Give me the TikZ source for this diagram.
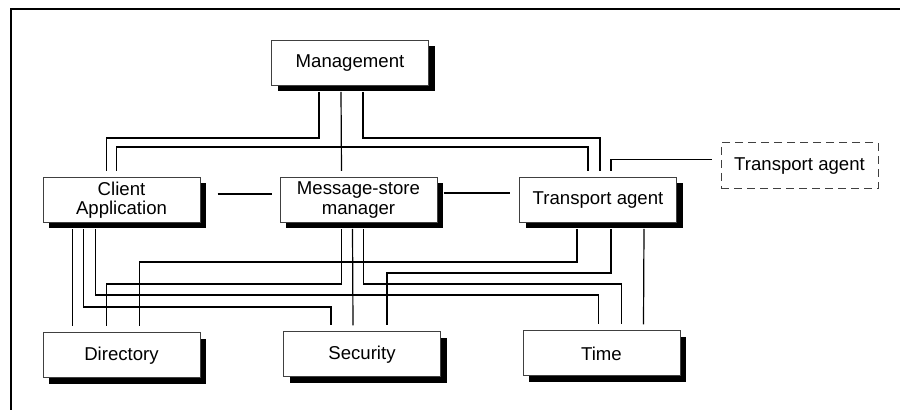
\documentclass[tikz,border=0pt]{standalone}
\usepackage{fontspec}
\setmainfont{Liberation Sans}
\usetikzlibrary{shadows,calc}

\begin{document}
\begin{tikzpicture}[x = 0.5pt, y = -0.5pt, font = \fontsize{9.3}{9.8}\selectfont,
        comp/.style = {draw = black!75, line width = 0.5pt, fill = white,
            minimum width = 78.5pt, minimum height = 22.5pt, inner sep = 0pt, align = center,
            drop shadow = {shadow xshift = 3pt, shadow yshift = -3pt, fill = black, opacity = 1}},
        remote/.style = {draw = black!75, line width = 0.5pt, dash pattern = on 4pt off 2.5pt,
            minimum width = 78.5pt, minimum height = 23pt, inner sep = 0pt},
        link/.style = {line width = 0.6pt}]
        \useasboundingbox (0,0) rectangle (900,410);
        \draw [line width = 1.25pt] (11,416) -- (11,9) -- (906,9);

        \node [comp] (mgmt) at (350,63) {Management};
        \node [comp] (client) at (121.5,200) {Client\\Application};
        \node [comp] (store) at (358.5,200) {Message-store\\manager};
        \node [comp] (transport) at (598,200) {Transport agent};
        \node [remote] (ext) at (799.5,166) {Transport agent};
        \node [comp] (directory) at (121.5,355.5) {Directory};
        \node [comp] (security) at (362,354.5) {Security};
        \node [comp] (time) at (601.5,353.5) {Time};

        \coordinate (m1) at ($(mgmt.south west)+(48,6)$);
        \coordinate (m2) at ($(mgmt.south west)+(70,6)$);
        \coordinate (m3) at ($(mgmt.south west)+(92,6)$);
        \coordinate (ct1) at ($(client.north west)+(64,-6)$);
        \coordinate (ct2) at ($(client.north west)+(74,-6)$);
        \coordinate (st) at ($(store.north west)+(62,-6)$);
        \coordinate (tt1) at ($(transport.north west)+(69,-6)$);
        \coordinate (tt2) at ($(transport.north west)+(81,-6)$);
        \coordinate (tt3) at ($(transport.north west)+(92,-6)$);
        \coordinate (xp) at ($(ext.north west)+(-9,17)$);

        \coordinate (cb1) at ($(client.south west)+(30,6)$);
        \coordinate (cb2) at ($(client.south west)+(41,6)$);
        \coordinate (cb3) at ($(client.south west)+(53,6)$);
        \coordinate (sb1) at ($(store.south west)+(62,6)$);
        \coordinate (sb2) at ($(store.south west)+(73,6)$);
        \coordinate (sb3) at ($(store.south west)+(84,6)$);
        \coordinate (tb1) at ($(transport.south west)+(58,6)$);
        \coordinate (tb2) at ($(transport.south west)+(92,6)$);
        \coordinate (tb3) at ($(transport.south west)+(125,6)$);

        \coordinate (d1) at ($(directory.north west)+(30,-6)$);
        \coordinate (d2) at ($(directory.north west)+(64,-6)$);
        \coordinate (d3) at ($(directory.north west)+(97,-6)$);
        \coordinate (s1) at ($(security.north west)+(48,-6)$);
        \coordinate (s2) at ($(security.north west)+(70,-6)$);
        \coordinate (s3) at ($(security.north west)+(104,-6)$);
        \coordinate (t1) at ($(time.north west)+(76,-6)$);
        \coordinate (t2) at ($(time.north west)+(99,-6)$);
        \coordinate (t3) at ($(time.north west)+(121,-6)$);

        \draw [link] (m1) -- ++(0,46) -| (ct1);
        \draw [link] (m2) -- (st);
        \draw [link] (m3) -- ++(0,46) -| (tt2);
        \draw [link] (ct2) -- ++(0,-24) -| (tt1);
        \draw [link] (tt3) |- (xp);

        \draw [link] ($(client.east)+(17,-6)$) -- ($(store.west)+(-8,-6)$);
        \draw [link] ($(store.east)+(6,-7)$) -- ($(transport.west)+(-9,-7)$);

        \draw [link] (cb1) -- (d1);
        \draw [link] (cb2) -- ++(0,78) -| (s1);
        \draw [link] (cb3) -- ++(0,66) -| (t1);
        \draw [link] (sb1) -- ++(0,55) -| (d2);
        \draw [link] (sb2) -- (s2);
        \draw [link] (sb3) -- ++(0,55) -| (t2);
        \draw [link] (tb1) -- ++(0,33) -| (d3);
        \draw [link] (tb2) -- ++(0,44) -| (s3);
        \draw [link] (tb3) -- (t3);
\end{tikzpicture}
\end{document}
